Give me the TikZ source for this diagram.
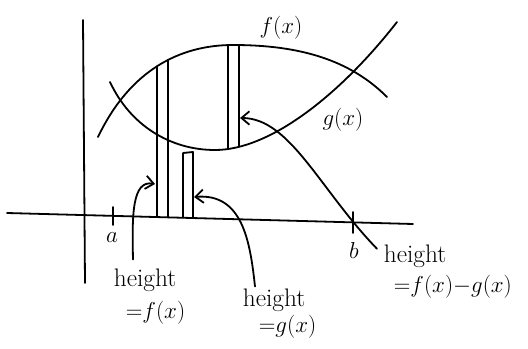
\documentclass[tikz,border=0pt]{standalone}
\usetikzlibrary{arrows.meta,calc,intersections}
\begin{document}
\begin{tikzpicture}[x=0.75pt,y=-0.75pt,line width=1.35pt,line cap=round,line join=round,
  lbl/.style={font=\fontsize{19}{21}\selectfont,inner sep=0pt},
  arr/.style={-{Straight Barb[length=6pt,width=10pt,line width=1.35pt]}}]
\useasboundingbox (0,0) rectangle (528,349);
% axes
\draw[name path=xaxis] (7,213) -- (413,224);
\draw (83,20) -- (85,283);
% ticks
\draw (113,207) -- (113,225);
\draw (353,212) -- (353,233);
\node[lbl] (la) at (112,238) {$a$};
\node[lbl] (lb) at (354,250) {$b$};
% curves
\draw[name path=f] (98,137) .. controls (130,70) and (180,45) .. (233,45)
                             .. controls (300,45) and (350,60) .. (387,97);
\draw[name path=g] (110,82) .. controls (130,125) and (170,150) .. (215,150)
                             .. controls (270,150) and (340,95) .. (397,22);
\node[lbl] (lf) at (281,28) {$f(x)$};
\node[lbl] (lg) at (343,120) {$g(x)$};
% vertical guide paths
\path[name path=va] (157,0) -- (157,349);
\path[name path=vb] (168,0) -- (168,349);
\path[name path=vc] (183,0) -- (183,349);
\path[name path=vd] (193,0) -- (193,349);
\path[name path=ve] (228,0) -- (228,349);
\path[name path=vh] (239,0) -- (239,349);
\path[name intersections={of=f and va,by=fa}];
\path[name intersections={of=xaxis and va,by=xa}];
\path[name intersections={of=f and vb,by=fb}];
\path[name intersections={of=xaxis and vb,by=xb}];
\path[name intersections={of=xaxis and vc,by=xc}];
\path[name intersections={of=xaxis and vd,by=xd}];
\path[name intersections={of=f and ve,by=fe}];
\path[name intersections={of=g and ve,by=ge}];
\path[name intersections={of=f and vh,by=fh}];
\path[name intersections={of=g and vh,by=gh}];
% left strip: from f to axis
\draw (fa) -- (xa);
\draw (fb) -- (xb);
% middle strip
\draw (xc) -- (183,153) -- (193,152) -- (xd);
% right strip: from f to g
\draw (fe) -- (ge);
\draw (fh) -- (gh);
% labels
\node[lbl,anchor=base west] (hf1) at (113,286) {height};
\node[lbl,anchor=base west] (hf2) at (125,318) {${=}f(x)$};
\node[lbl,anchor=base west] (hg1) at (242,306) {height};
\node[lbl,anchor=base west] (hg2) at (258,332) {${=}g(x)$};
\node[lbl,anchor=base west] (hd1) at (383,262) {height};
\node[lbl,anchor=base west] (hd2) at (393,292) {${=}f(x){-}g(x)$};
% arrows
\coordinate (tf) at (155,184);
\coordinate (tg) at (194,197);
\coordinate (td) at (240,118);
\draw[arr] ($(hf1.north west)+(20,-8)$) .. controls (132,215) and (132,180) .. (tf);
\draw[arr] ($(hg1.north west)+(13,-1)$) .. controls (250,240) and (242,193) .. (tg);
\draw[arr] ($(hd1.west)+(-6,-7)$) .. controls (320,190) and (290,118) .. (td);
\end{tikzpicture}
\end{document}
